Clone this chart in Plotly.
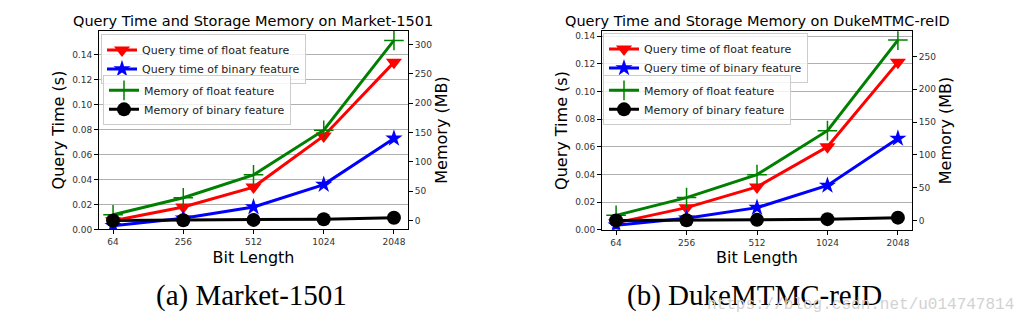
import plotly.graph_objects as go

bits = ["64", "256", "512", "1024", "2048"]

# Market-1501
m_query_float = [0.007, 0.018, 0.034, 0.075, 0.134]
m_query_binary = [0.003, 0.009, 0.018, 0.036, 0.073]
m_mem_float = [10, 39, 78, 154, 307]
m_mem_binary = [0.3, 0.6, 1.2, 2.4, 5.0]

# DukeMTMC-reID
d_query_float = [0.005, 0.016, 0.031, 0.060, 0.121]
d_query_binary = [0.0033, 0.0083, 0.016, 0.032, 0.066]
d_mem_float = [8, 35, 70, 137, 275]
d_mem_binary = [0.3, 0.5, 1.1, 2.2, 4.5]

titles = ["Query Time and Storage Memory on Market-1501",
          "Query Time and Storage Memory on DukeMTMC-reID"]
captions = ["(a) Market-1501", "(b) DukeMTMC-reID"]
names = ["Query time of float feature", "Query time of binary feature",
         "Memory of float feature", "Memory of binary feature"]

W, H = 1028, 331
FONT = "DejaVu Sans"

def px(x):
    return x / W

def py(y):
    return 1 - y / H

fig = go.Figure()

panels = [
    dict(q1=m_query_float, q2=m_query_binary, m1=m_mem_float, m2=m_mem_binary,
         x="x", yq="y", ym="y2", lq="legend", lm="legend2"),
    dict(q1=d_query_float, q2=d_query_binary, m1=d_mem_float, m2=d_mem_binary,
         x="x2", yq="y3", ym="y4", lq="legend3", lm="legend4"),
]

for i, p in enumerate(panels):
    fig.add_trace(go.Scatter(x=bits, y=p["q1"], name=names[0], mode="lines+markers",
                             line=dict(color="red", width=3),
                             marker=dict(symbol="triangle-down", size=14, color="red"),
                             xaxis=p["x"], yaxis=p["yq"], legend=p["lq"]))
    fig.add_trace(go.Scatter(x=bits, y=p["q2"], name=names[1], mode="lines+markers",
                             line=dict(color="blue", width=3),
                             marker=dict(symbol="star", size=13, color="blue"),
                             xaxis=p["x"], yaxis=p["yq"], legend=p["lq"]))
    fig.add_trace(go.Scatter(x=bits, y=p["m1"], name=names[2], mode="lines+markers",
                             line=dict(color="green", width=3),
                             marker=dict(symbol="cross-thin", size=14,
                                         line=dict(color="green", width=1.5)),
                             xaxis=p["x"], yaxis=p["ym"], legend=p["lm"]))
    fig.add_trace(go.Scatter(x=bits, y=p["m2"], name=names[3], mode="lines+markers",
                             line=dict(color="black", width=3),
                             marker=dict(symbol="circle", size=14, color="black"),
                             xaxis=p["x"], yaxis=p["ym"], legend=p["lm"]))

axis_common = dict(showline=True, linecolor="black", linewidth=1, ticks="outside",
                   ticklen=4, tickcolor="black", tickfont=dict(size=9, family=FONT, color="#333"),
                   zeroline=False)

xdom = [[px(99), px(408)], [px(602), px(912)]]
ydom = [[py(233), py(31)], [py(233.3), py(31.7)]]
TSZ = 16

fig.update_layout(
    width=W, height=H, margin=dict(l=0, r=0, t=0, b=0),
    paper_bgcolor="white", plot_bgcolor="white",
    font=dict(family=FONT, color="black"),
    xaxis=dict(domain=xdom[0], anchor="y", range=[-0.2, 4.2], type="category",
               mirror=True, showgrid=False,
               title=dict(text="Bit Length", font=dict(size=TSZ), standoff=5), **axis_common),
    yaxis=dict(domain=ydom[0], anchor="x", range=[0, 0.1595], tickformat=".2f",
               dtick=0.02, showgrid=True, gridcolor="#b0b0b0", gridwidth=1,
               title=dict(text="Query Time (s)", font=dict(size=TSZ), standoff=3), **axis_common),
    yaxis2=dict(overlaying="y", anchor="x", side="right", range=[-15.1, 323.8],
                dtick=50, showgrid=False,
                title=dict(text="Memory (MB)", font=dict(size=TSZ), standoff=3), **axis_common),
    xaxis2=dict(domain=xdom[1], anchor="y3", range=[-0.2, 4.2], type="category",
                mirror=True, showgrid=False,
                title=dict(text="Bit Length", font=dict(size=TSZ), standoff=5), **axis_common),
    yaxis3=dict(domain=ydom[1], anchor="x2", range=[0, 0.1435], tickformat=".2f",
                dtick=0.02, showgrid=True, gridcolor="#b0b0b0", gridwidth=1,
                title=dict(text="Query Time (s)", font=dict(size=TSZ), standoff=3), **axis_common),
    yaxis4=dict(overlaying="y3", anchor="x2", side="right", range=[-14, 288.5],
                dtick=50, showgrid=False,
                title=dict(text="Memory (MB)", font=dict(size=TSZ), standoff=3), **axis_common),
)

leg_common = dict(xanchor="left", yanchor="top", bgcolor="rgba(255,255,255,0.8)",
                  bordercolor="#cccccc", borderwidth=1, font=dict(size=11, family=FONT, color="#222"),
                  tracegroupgap=0, itemwidth=30)
fig.update_layout(
    legend=dict(x=px(101), y=py(35), **leg_common),
    legend2=dict(x=px(103), y=py(76), **leg_common),
    legend3=dict(x=px(603), y=py(34), **leg_common),
    legend4=dict(x=px(603), y=py(76), **leg_common),
)

# panel titles
for i, t in enumerate(titles):
    cx = (xdom[i][0] + xdom[i][1]) / 2
    fig.add_annotation(text=t, x=cx, y=py(21), xref="paper", yref="paper",
                       showarrow=False, xanchor="center", yanchor="middle",
                       font=dict(size=14.5, family=FONT, color="black"))

# captions
cap_x = [251.5, 754.5]
for i, c in enumerate(captions):
    fig.add_annotation(text=c, x=px(cap_x[i]), y=py(300), xref="paper", yref="paper",
                       showarrow=False, xanchor="center", yanchor="middle",
                       font=dict(size=29, family="Liberation Serif", color="black"))

fig.add_annotation(text="https://blog.csdn.net/u014747814", x=px(1016), y=py(310),
                   xref="paper", yref="paper", showarrow=False, xanchor="right",
                   yanchor="middle", font=dict(size=16, family="Liberation Mono", color="#d2d2d2"))

fig.write_html("out.html")
